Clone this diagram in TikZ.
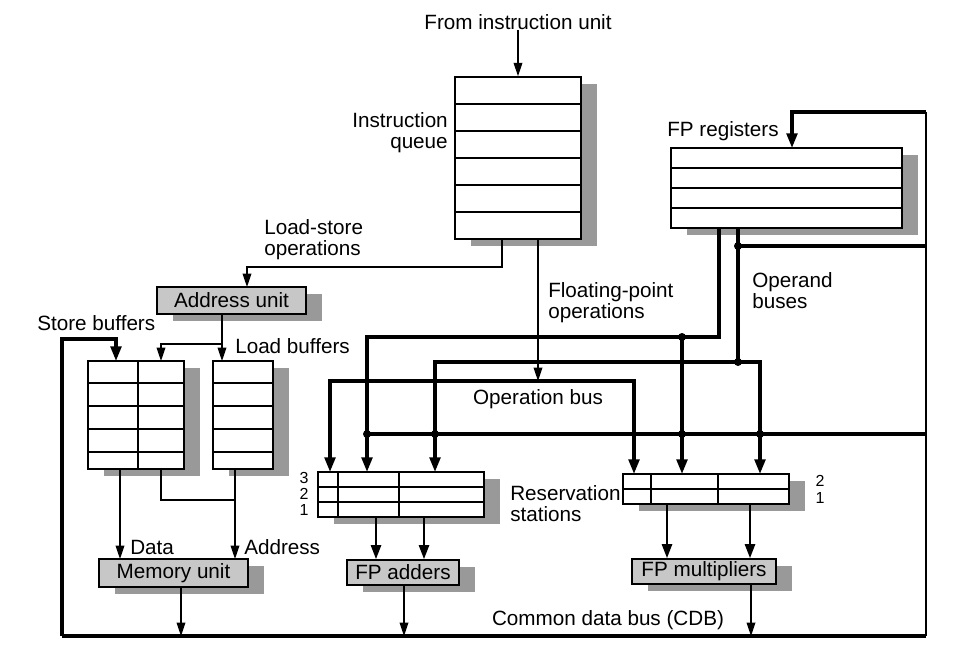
\documentclass[tikz,border=0pt]{standalone}
\usepackage{fontspec}
\setmainfont{Liberation Sans}
\usetikzlibrary{arrows.meta,fit,shadows}
\newlength\pxu
\setlength\pxu{0.75pt}
\begin{document}
\begin{tikzpicture}[x=0.75pt,y=-0.75pt,
  every node/.style={font=\fontsize{15.5}{15.75}\selectfont, inner sep=0pt},
  numlbl/.style={font=\fontsize{12}{12}\selectfont},
  tbl/.style={draw, line width=1.2pt, fill=white, inner sep=0pt,
    general shadow={fill=black!40, shadow xshift=12pt, shadow yshift=-5.25pt}},
  unitbox/.style={tbl, fill=black!22},
  gridline/.style={line width=1pt},
  tarrow/.style={line width=1pt, -{Triangle[length=10pt,width=6.5pt]}},
  marrow/.style={line width=1.8pt, -{Triangle[length=10.5pt,width=7.5pt]}},
  barrow/.style={line width=2.5pt, -{Triangle[length=11pt,width=8pt]}},
  bbarrow/.style={line width=2.5pt, {Triangle[length=11pt,width=8pt]}-{Triangle[length=11pt,width=8pt]}},
  thinline/.style={line width=1pt},
  busline/.style={line width=2.5pt},
  loopline/.style={line width=1.7pt},
  junction/.style={fill=black}
]
\useasboundingbox (0,0) rectangle (978,656);

% ---------- tables ----------
\node[tbl, fit={(455,77) (581,239)}] (iq) {};
\foreach \yy in {104,131,158,185,212} \draw[gridline] (455,\yy) -- (581,\yy);

\node[tbl, fit={(671,148) (902,228)}] (fpr) {};
\foreach \yy in {168,188,208} \draw[gridline] (671,\yy) -- (902,\yy);

\node[tbl, fit={(88,361) (184,469)}] (sb) {};
\foreach \yy in {383,406,429,452} \draw[gridline] (88,\yy) -- (184,\yy);
\draw[gridline] (138,361) -- (138,469);

\node[tbl, fit={(213,361) (273,469)}] (lb) {};
\foreach \yy in {383,406,429,452} \draw[gridline] (213,\yy) -- (273,\yy);

\node[tbl, fit={(318,472) (484,517)}] (ars) {};
\foreach \yy in {487,502} \draw[gridline] (318,\yy) -- (484,\yy);
\foreach \xx in {338,399} \draw[gridline] (\xx,472) -- (\xx,517);

\node[tbl, fit={(623,474) (789,504)}] (mrs) {};
\draw[gridline] (623,489) -- (789,489);
\foreach \xx in {651,718} \draw[gridline] (\xx,474) -- (\xx,504);

% ---------- units ----------
\node[unitbox, minimum width=149\pxu, minimum height=27\pxu] (au) at (231.5,300.5) {Address unit};
\node[unitbox, minimum width=149\pxu, minimum height=28\pxu] (mu) at (173.5,573) {Memory unit};
\node[unitbox, minimum width=112\pxu, minimum height=25\pxu] (fa) at (403,572.5) {FP adders};
\node[unitbox, minimum width=144\pxu, minimum height=25\pxu] (fm) at (704,571.5) {FP multipliers};

% ---------- labels ----------
\node (fromiu) at (518,22) {From instruction unit};
\node[anchor=east, align=right] (iqlbl) at (448,133) {Instruction\\queue};
\node[anchor=west, align=left] (lslbl) at (264,240) {Load-store\\operations};
\node[anchor=west] (sblbl) at (37,323) {Store buffers};
\node[anchor=west] (lblbl) at (235,346) {Load buffers};
\node[anchor=west] (fplbl) at (667,131) {FP registers};
\node[anchor=west, align=left] (oblbl) at (752,291) {Operand\\buses};
\node[anchor=west, align=left] (fpolbl) at (548,303) {Floating-point\\operations};
\node (opbuslbl) at (538,399) {Operation bus};
\node[anchor=west, align=left] (rslbl) at (510,504) {Reservation\\stations};
\node (cdblbl) at (608,620) {Common data bus (CDB)};
\node[anchor=west] (datalbl) at (130,547) {Data};
\node[anchor=west] (addrlbl) at (244,547) {Address};
\node[numlbl] (n3) at (304,478) {3};
\node[numlbl] (n2) at (304,494) {2};
\node[numlbl] (n1) at (304,510) {1};
\node[numlbl] (m2) at (820,481) {2};
\node[numlbl] (m1) at (820,498) {1};

% ---------- coordinates ----------
\coordinate (iqL) at (502,239);
\coordinate (lsTurn) at (247,267);
\coordinate (auIn) at (247,287);
\coordinate (iqF) at (538,239);
\coordinate (opF) at (538,381);
\coordinate (auOut) at (222,314);
\coordinate (auBr) at (222,344);
\coordinate (lbIn) at (222,361);
\coordinate (sbIn) at (161,361);
\coordinate (cdbL) at (62,636);
\coordinate (cdbR) at (926,636);
\coordinate (cdbTR) at (926,112);
\coordinate (fprIn) at (792,148);
\coordinate (sbTurn) at (116,339);
\coordinate (sbCdb) at (116,361);
\coordinate (fr1) at (719,228);
\coordinate (fr2) at (738,228);
\coordinate (ob1) at (367,337);
\coordinate (ob1m) at (682,337);
\coordinate (ob2L) at (435,362);
\coordinate (ob2R) at (760,362);
\coordinate (ob2j) at (738,362);
\coordinate (fr2j) at (738,246);
\coordinate (cdbR246) at (926,246);
\coordinate (cdbRS) at (367,434);
\coordinate (cdbRS2) at (435,434);
\coordinate (cdbM1) at (682,434);
\coordinate (cdbM2) at (760,434);
\coordinate (cdbR434) at (926,434);
\coordinate (opR) at (634,381);
\coordinate (arsIn1) at (330,472);
\coordinate (arsIn2) at (367,472);
\coordinate (arsIn3) at (435,472);
\coordinate (mrsIn1) at (634,474);
\coordinate (mrsIn2) at (682,474);
\coordinate (mrsIn3) at (760,474);

% ---------- connectors ----------
\draw[tarrow] (fromiu.south) -- (iq.north);
\draw[tarrow] (iqL) |- (lsTurn) -- (auIn);
\draw[tarrow] (iqF) -- (opF);
\draw[tarrow] (auOut) -- (lbIn);
\draw[tarrow] (auBr) -| (sbIn);

% CDB loop
\draw[busline] (cdbL) -- (cdbR);
\draw[barrow] (cdbL) |- (sbTurn) -- (sbCdb);
\draw[loopline] (cdbR) -- (cdbTR);
\draw[barrow] (cdbTR) -| (fprIn);
\draw[busline] (fr2j) -- (cdbR246);
\draw[busline] (cdbRS) -- (cdbR434);

% operand buses
\draw[barrow] (fr1) |- (ob1) -- (arsIn2);
\draw[barrow] (ob1m) -- (mrsIn2);
\draw[busline] (fr2) -- (ob2j);
\draw[bbarrow] (arsIn3) |- (ob2R) -- (mrsIn3);

% operation bus
\draw[bbarrow] (arsIn1) |- (opR) -- (mrsIn1);

% junction dots
\foreach \p in {cdbRS,cdbRS2,cdbM1,cdbM2,ob1m,ob2j,fr2j}
  \fill[junction] (\p) circle (3pt);

% buffers to memory unit
\draw[tarrow] (120,469) -- (120,559);
\draw[thinline] (161,469) |- (235,500);
\draw[tarrow] (235,469) -- (235,559);

% stations to units
\draw[marrow] (376,517) -- (fa.north -| 376,0);
\draw[marrow] (424,517) -- (fa.north -| 424,0);
\draw[marrow] (667,504) -- (fm.north -| 667,0);
\draw[marrow] (750,504) -- (fm.north -| 750,0);

% units to CDB
\draw[tarrow] (mu.south -| 181,0) -- (181,636);
\draw[tarrow] (fa.south -| 404,0) -- (404,636);
\draw[tarrow] (fm.south -| 751,0) -- (751,636);
\end{tikzpicture}
\end{document}
